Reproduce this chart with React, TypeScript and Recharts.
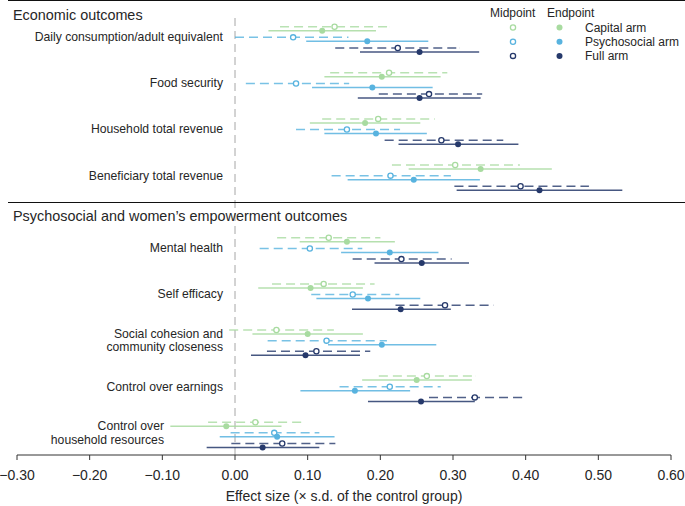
import React from 'react';
import { ScatterChart, Scatter, XAxis, YAxis, ErrorBar, ReferenceLine } from 'recharts';

// ---------- data ----------
const outcomes = [
  'Daily consumption/adult equivalent',
  'Food security',
  'Household total revenue',
  'Beneficiary total revenue',
  'Mental health',
  'Self efficacy',
  'Social cohesion and\ncommunity closeness',
  'Control over earnings',
  'Control over\nhousehold resources',
];
const outcomeSection = [0, 0, 0, 0, 1, 1, 1, 1, 1];
const sections = ['Economic outcomes', 'Psychosocial and women\u2019s empowerment outcomes'];
const arms = ['Capital arm', 'Psychosocial arm', 'Full arm'];
const timepoints = ['Midpoint', 'Endpoint'];
const xTicks = [-0.3, -0.2, -0.1, 0, 0.1, 0.2, 0.3, 0.4, 0.5, 0.6];

const capMidEst = [0.137, 0.212, 0.197, 0.303, 0.129, 0.122, 0.057, 0.264, 0.028];
const capMidLo = [0.062, 0.131, 0.12, 0.216, 0.058, 0.051, -0.008, 0.198, -0.037];
const capMidHi = [0.212, 0.292, 0.275, 0.392, 0.2, 0.192, 0.136, 0.331, 0.092];

const capEndEst = [0.12, 0.202, 0.179, 0.338, 0.154, 0.104, 0.1, 0.25, -0.012];
const capEndLo = [0.046, 0.123, 0.103, 0.239, 0.089, 0.032, 0.024, 0.175, -0.089];
const capEndHi = [0.194, 0.283, 0.255, 0.436, 0.22, 0.176, 0.176, 0.326, 0.064];

const psyMidEst = [0.08, 0.084, 0.154, 0.214, 0.103, 0.162, 0.126, 0.213, 0.054];
const psyMidLo = [0.0, 0.015, 0.084, 0.133, 0.034, 0.105, 0.045, 0.144, -0.006];
const psyMidHi = [0.156, 0.157, 0.227, 0.297, 0.175, 0.226, 0.209, 0.283, 0.116];

const psyEndEst = [0.182, 0.189, 0.194, 0.246, 0.213, 0.183, 0.202, 0.165, 0.058];
const psyEndLo = [0.098, 0.106, 0.123, 0.155, 0.146, 0.112, 0.128, 0.09, -0.021];
const psyEndHi = [0.266, 0.272, 0.264, 0.337, 0.28, 0.255, 0.277, 0.241, 0.137];

const fullMidEst = [0.224, 0.267, 0.284, 0.393, 0.229, 0.289, 0.112, 0.33, 0.065];
const fullMidLo = [0.138, 0.198, 0.206, 0.302, 0.162, 0.221, 0.044, 0.267, -0.005];
const fullMidHi = [0.309, 0.34, 0.369, 0.487, 0.298, 0.356, 0.186, 0.395, 0.138];

const fullEndEst = [0.254, 0.254, 0.307, 0.419, 0.257, 0.228, 0.097, 0.256, 0.038];
const fullEndLo = [0.172, 0.169, 0.225, 0.305, 0.192, 0.161, 0.022, 0.183, -0.039];
const fullEndHi = [0.336, 0.338, 0.39, 0.533, 0.322, 0.297, 0.172, 0.33, 0.116];

// ---------- layout / style ----------
const W = 685;
const H = 506;
const FONT = '"Liberation Sans", Arial, Helvetica, sans-serif';
const TEXT = '#262626';
const armColors = ['#a8dba0', '#58b3df', '#26396b'];

const PLOT_TOP = 18;
const PLOT_H = 437;
const FIRST = 8.7;
const ROW_STEP = 46.1;
const SECTION_GAP = 26.7;
const ARM_STEP = 10.65;
const END_SHIFT = 4;
const LABEL_SHIFT = 10.3;

const slotY = (i: number) => FIRST + i * ROW_STEP + outcomeSection[i] * SECTION_GAP;

const build = (est: number[], lo: number[], hi: number[], arm: number, isEnd: boolean) =>
  est.map((v, i) => ({
    x: v,
    y: slotY(i) + arm * ARM_STEP + (isEnd ? END_SHIFT : 0),
    err: [v - lo[i], hi[i] - v],
    outcome: outcomes[i],
  }));

const series = [
  { name: 'Capital arm midpoint', arm: 0, end: false, data: build(capMidEst, capMidLo, capMidHi, 0, false) },
  { name: 'Capital arm endpoint', arm: 0, end: true, data: build(capEndEst, capEndLo, capEndHi, 0, true) },
  { name: 'Psychosocial arm midpoint', arm: 1, end: false, data: build(psyMidEst, psyMidLo, psyMidHi, 1, false) },
  { name: 'Psychosocial arm endpoint', arm: 1, end: true, data: build(psyEndEst, psyEndLo, psyEndHi, 1, true) },
  { name: 'Full arm midpoint', arm: 2, end: false, data: build(fullMidEst, fullMidLo, fullMidHi, 2, false) },
  { name: 'Full arm endpoint', arm: 2, end: true, data: build(fullEndEst, fullEndLo, fullEndHi, 2, true) },
];

const labelTicks = outcomes.map((_, i) => slotY(i) + LABEL_SHIFT);

const fmt = (v: number) => (v < 0 ? '\u2212' + Math.abs(v).toFixed(2) : v.toFixed(2));

const LabelTick = (props: any) => {
  const { y, index } = props;
  const lines = outcomes[index].split('\n');
  const right = index === 8 ? 164 : 223;
  return (
    <text x={right} y={y} textAnchor="end" fontSize={12.2} fill={TEXT} fontFamily={FONT}>
      {lines.length === 1 ? (
        <tspan x={right} dy={4.2}>{lines[0]}</tspan>
      ) : (
        lines.map((l, k) => (
          <tspan key={k} x={right} dy={k === 0 ? -2.6 : 13.7}>{l}</tspan>
        ))
      )}
    </text>
  );
};

const openDot = (color: string) => (p: any) => (
  <circle cx={p.cx} cy={p.cy} r={2.6} fill="#fff" stroke={color} strokeWidth={1.3} />
);
const fullDot = (color: string) => (p: any) => <circle cx={p.cx} cy={p.cy} r={3} fill={color} />;

const Overlay = () => {
  const legendRowY = [27.5, 41.7, 55.9];
  return (
    <svg width={W} height={H} style={{ position: 'absolute', left: 0, top: 0, pointerEvents: 'none' }}>
      <line x1={8} y1={0.5} x2={W} y2={0.5} stroke="#111" strokeWidth={1} />
      <line x1={8} y1={202.5} x2={W} y2={202.5} stroke="#111" strokeWidth={1} />
      <text x={13} y={20} fontSize={14.4} fill={TEXT} fontFamily={FONT}>{sections[0]}</text>
      <text x={13} y={220.5} fontSize={14.4} fill={TEXT} fontFamily={FONT}>{sections[1]}</text>
      <text x={490} y={17.3} fontSize={12} fill={TEXT} fontFamily={FONT}>{timepoints[0]}</text>
      <text x={547} y={17.3} fontSize={12} fill={TEXT} fontFamily={FONT}>{timepoints[1]}</text>
      {arms.map((a, i) => (
        <g key={a}>
          <circle cx={513} cy={legendRowY[i]} r={2.6} fill="#fff" stroke={armColors[i]} strokeWidth={1.3} />
          <circle cx={559.5} cy={legendRowY[i]} r={3} fill={armColors[i]} />
          <text x={585} y={legendRowY[i] + 4.3} fontSize={12} fill={TEXT} fontFamily={FONT}>{a}</text>
        </g>
      ))}
    </svg>
  );
};

export default function App() {
  return (
    <div style={{ position: 'absolute', left: 0, top: 0, width: W, height: H, background: '#fff' }}>
      <ScatterChart width={W} height={H} margin={{ top: PLOT_TOP, right: 14, bottom: 0, left: 17 }}>
        <XAxis
          type="number"
          dataKey="x"
          domain={[-0.3, 0.6]}
          ticks={xTicks}
          tickFormatter={fmt}
          height={51}
          stroke="#333"
          tickSize={5}
          tickMargin={10}
          tick={{ fontSize: 14, fill: TEXT, fontFamily: FONT }}
          label={{
            value: 'Effect size (\u00d7 s.d. of the control group)',
            position: 'insideBottom',
            offset: 5,
            fontSize: 14,
            fill: TEXT,
            fontFamily: FONT,
          }}
        />
        <YAxis
          type="number"
          dataKey="y"
          domain={[0, PLOT_H]}
          reversed
          mirror
          axisLine={false}
          tickLine={false}
          ticks={labelTicks}
          interval={0}
          tick={(p: any) => <LabelTick {...p} />}
        />
        <ReferenceLine x={0} stroke="#a6a6a6" strokeDasharray="8 5" strokeWidth={1} />
        {series.map((s) => (
          <Scatter
            key={s.name}
            name={s.name}
            data={s.data}
            isAnimationActive={false}
            shape={s.end ? fullDot(armColors[s.arm]) : openDot(armColors[s.arm])}
          >
            <ErrorBar
              dataKey="err"
              direction="x"
              width={0}
              stroke={armColors[s.arm]}
              strokeWidth={1.5}
              strokeOpacity={s.end ? 0.85 : 0.8}
              strokeDasharray={s.end ? undefined : '9 5'}
              isAnimationActive={false}
            />
          </Scatter>
        ))}
      </ScatterChart>
      <Overlay />
    </div>
  );
}
